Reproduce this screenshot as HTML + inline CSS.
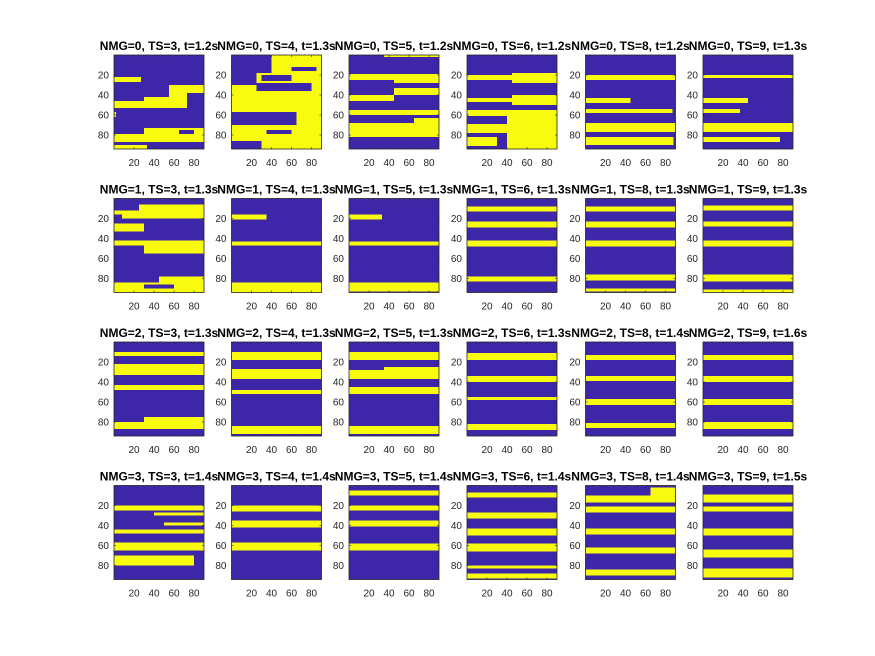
<!DOCTYPE html>
<html><head><meta charset="utf-8"><style>
html,body{margin:0;padding:0;background:#fff;}
svg{display:block;font-family:"Liberation Sans",Arial,sans-serif;}
</style></head><body>
<svg id="fig" width="875" height="656" viewBox="0 0 875 656" xmlns="http://www.w3.org/2000/svg"></svg>
<script>
const nmgValues=[0,1,2,3];
const tsValues=[3,4,5,6,8,9];
const timeValues=[
 ["1.2","1.3","1.2","1.2","1.2","1.3"],
 ["1.3","1.3","1.3","1.3","1.3","1.3"],
 ["1.3","1.3","1.3","1.3","1.4","1.6"],
 ["1.4","1.4","1.4","1.4","1.4","1.5"]];
const tickValues=[20,40,60,80];
// rects: [x0,x1,y0,y1,color] color 1=yellow,0=blue (data units)
const panelRects=[
 [ // NMG=0
  [[0,27,22,27,1],[0,90,46,53,1],[30,90,42,46,1],[55,90,30,42,1],[73,90,38,53,0],[0,2,57,62,1],[0,90,79,87,1],[30,90,73,80,1],[65,80,75,79,0],[0,33,90,94,1]],
  [[0,90,0,94,1],[0,40,0,18,0],[0,25,18,30,0],[30,60,20,26,0],[25,80,28,36,0],[0,65,57,70,0],[0,30,86,94,0],[35,60,75,79,0],[60,85,12,16,0]],
  [[35,90,0,2,1],[0,90,19,25,1],[45,90,25,28,1],[45,90,33,40,1],[0,45,40,46,1],[0,90,55,60,1],[0,90,68,82,1],[65,90,63,68,1]],
  [[0,90,20,25,1],[45,90,18,28,1],[0,45,43,47,1],[45,90,40,50,1],[0,90,55,61,1],[40,90,61,94,1],[0,40,69,78,1],[0,30,82,91,1]],
  [[0,90,20,25,1],[0,45,43,48,1],[0,87,54,58,1],[0,90,68,77,1],[0,88,82,90,1]],
  [[0,90,20,23,1],[0,45,43,48,1],[0,37,54,58,1],[0,90,68,77,1],[0,77,82,87,1]]
 ],
 [ // NMG=1
  [[25,90,6,12,1],[0,90,12,20,1],[0,8,16,20,0],[0,30,25,33,1],[0,90,42,47,1],[30,90,47,55,1],[45,90,78,85,1],[0,90,84,94,1],[30,60,86,90,0]],
  [[0,35,16,21,1],[0,90,43,47,1],[0,90,84,94,1]],
  [[0,33,16,21,1],[0,90,43,47,1],[0,90,84,93,1]],
  [[0,90,8,13,1],[0,90,23,29,1],[0,90,42,48,1],[0,90,78,83,1]],
  [[0,90,8,13,1],[0,90,23,29,1],[0,90,42,48,1],[0,90,76,82,1],[0,90,90,93,1]],
  [[0,90,7,12,1],[0,90,23,28,1],[0,90,42,48,1],[0,90,76,83,1],[0,90,91,94,1]]
 ],
 [ // NMG=2
  [[0,90,10,14,1],[0,90,22,33,1],[0,90,43,48,1],[0,90,80,87,1],[30,90,75,80,1]],
  [[0,90,10,18,1],[0,90,27,37,1],[0,90,48,52,1],[0,90,84,92,1]],
  [[0,90,10,18,1],[0,90,28,37,1],[35,90,25,28,1],[0,90,45,52,1],[0,90,84,92,1]],
  [[0,90,11,18,1],[0,90,34,40,1],[0,90,55,58,1],[0,90,82,88,1]],
  [[0,90,13,18,1],[0,90,34,39,1],[0,90,57,63,1],[0,90,81,86,1]],
  [[0,90,13,18,1],[0,90,34,40,1],[0,90,57,63,1],[0,90,80,87,1]]
 ],
 [ // NMG=3
  [[0,90,20,25,1],[40,90,27,30,1],[50,90,37,40,1],[0,90,44,48,1],[0,90,57,65,1],[0,80,70,80,1]],
  [[0,90,20,26,1],[0,90,35,42,1],[0,90,57,65,1]],
  [[0,90,5,10,1],[0,90,20,25,1],[0,90,35,41,1],[0,90,58,65,1]],
  [[0,90,7,12,1],[0,90,27,33,1],[0,90,43,50,1],[0,90,58,66,1],[0,90,80,83,1],[0,90,88,93,1]],
  [[65,90,2,10,1],[0,90,10,17,1],[0,90,21,27,1],[0,90,43,49,1],[0,90,62,68,1],[0,90,84,90,1]],
  [[0,90,9,17,1],[0,90,21,26,1],[0,90,43,50,1],[0,90,64,72,1],[0,90,83,92,1]]
 ]
];
const NS="http://www.w3.org/2000/svg";
const svg=document.getElementById('fig');
const lefts=[114,231.5,349,467,585.5,703], tops=[55,198.5,342,485.5];
const W=90,H=94,XMAX=90,YMAX=94;
const BLUE="#3e26a8",YEL="#f9fb0e";
function mk(t,a,p){const e=document.createElementNS(NS,t);for(const k in a)e.setAttribute(k,a[k]);(p||svg).appendChild(e);return e;}
for(let r=0;r<4;r++)for(let c=0;c<6;c++){
 const L=lefts[c],T=tops[r];
 const sx=v=>L+v/XMAX*W, sy=v=>T+v/YMAX*H;
 const g=mk('g',{});
 
 
 const bg=mk('rect',{x:L,y:T,width:W,height:H,fill:BLUE},g);
 
 
 panelRects[r][c].forEach(d=>{
  const e=mk('rect',{x:sx(d[0]),y:sy(d[2]),width:sx(d[1])-sx(d[0]),height:sy(d[3])-sy(d[2]),fill:d[4]?YEL:BLUE},g);
  
  
 });
 const bx=mk('rect',{x:L,y:T,width:W,height:H,fill:'none',stroke:'#262626','stroke-width':0.8},g);
 
 
 tickValues.forEach(v=>{
  const yy=sy(v), xx=sx(v);
  mk('line',{x1:L,x2:L+2,y1:yy,y2:yy,stroke:'#262626','stroke-width':0.6},g);
  mk('line',{x1:L+W,x2:L+W-2,y1:yy,y2:yy,stroke:'#262626','stroke-width':0.6},g);
  mk('line',{x1:xx,x2:xx,y1:T+H,y2:T+H-2,stroke:'#262626','stroke-width':0.6},g);
  mk('line',{x1:xx,x2:xx,y1:T,y2:T+2,stroke:'#262626','stroke-width':0.6},g);
  const yl=mk('text',{x:L-5,y:yy+3.5,'text-anchor':'end','font-size':10,fill:'#262626'},g);
  yl.textContent=v;
  
  
  const xl=mk('text',{x:xx,y:T+H+17,'text-anchor':'middle','font-size':10,fill:'#262626'},g);
  xl.textContent=v;
  
  
 });
 const tt=mk('text',{x:L+W/2,y:T-5,'text-anchor':'middle','font-size':12,'font-weight':'bold',fill:'#000'},g);
 tt.textContent='NMG='+nmgValues[r]+', TS='+tsValues[c]+', t='+timeValues[r][c]+'s';
 
 
}
</script>
</body></html>
